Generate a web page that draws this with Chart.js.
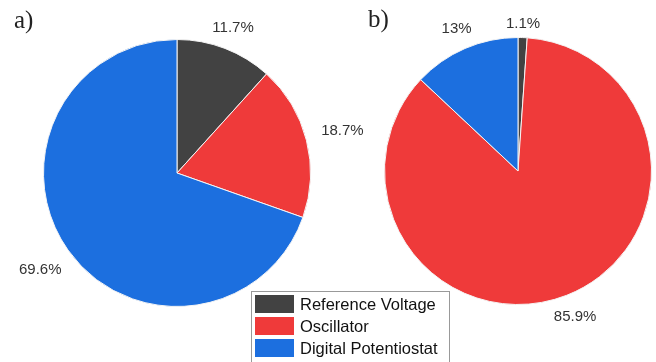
<!DOCTYPE html>
<html>
<head>
<meta charset="utf-8">
<script src="https://cdn.jsdelivr.net/npm/chart.js@4/dist/chart.umd.min.js"></script>
<style>
  body { margin:0; background:#fff; }
  #wrap { position:relative; width:656px; height:362px; overflow:hidden; }
  #wrap canvas { position:absolute; left:0; top:0; }
  .tag { position:absolute; font-family:"Liberation Serif","Times New Roman",serif; font-size:25px; color:#222; }
  #legend { position:absolute; left:251px; top:291px; width:199px; height:72px; border:1px solid #999; box-sizing:border-box;
            font-family:"Liberation Sans",Arial,sans-serif; font-size:16.5px; color:#111; }
  .row { position:absolute; left:3px; height:18px; }
  .sw { position:absolute; left:0; top:0; width:39px; height:18px; }
  .lt { position:absolute; left:45px; top:-1px; white-space:nowrap; line-height:20px; }
</style>
</head>
<body>
<div id="wrap">
  <canvas id="pieA" width="656" height="362"></canvas>
  <canvas id="pieB" width="656" height="362"></canvas>
  <div class="tag" style="left:14px;top:6px">a)</div>
  <div class="tag" style="left:368px;top:5px">b)</div>
  <div id="legend"></div>
</div>
<script>
const parts = ['Reference Voltage', 'Oscillator', 'Digital Potentiostat'];
const shareA = [11.7, 18.7, 69.6];
const shareB = [1.1, 85.9, 13];
const textA = ['11.7%', '18.7%', '69.6%'];
const textB = ['1.1%', '85.9%', '13%'];
const colors = ['#424242', '#ef3a3a', '#1c6fdf'];

// percentage labels just outside each slice
const outLabels = {
  id: 'outLabels',
  afterDatasetsDraw(chart, args, opts) {
    const ctx = chart.ctx;
    const meta = chart.getDatasetMeta(0);
    ctx.save();
    ctx.font = '15px "Liberation Sans", Arial, sans-serif';
    ctx.fillStyle = '#333';
    ctx.textAlign = 'center';
    ctx.textBaseline = 'middle';
    meta.data.forEach((arc, i) => {
      const mid = (arc.startAngle + arc.endAngle) / 2;
      const txt = opts.texts[i];
      const w = ctx.measureText(txt).width;
      const dx = Math.cos(mid), dy = Math.sin(mid);
      const d = arc.outerRadius + 10 + Math.abs(dx) * (w / 2 + 6) + Math.abs(dy) * 3;
      ctx.fillText(txt, arc.x + dx * d, arc.y + dy * d);
    });
    ctx.restore();
  }
};

function makePie(id, values, texts, pad) {
  new Chart(document.getElementById(id), {
    type: 'pie',
    data: {
      labels: parts,
      datasets: [{
        data: values,
        backgroundColor: colors,
        borderColor: '#f4f4f4',
        borderWidth: 1
      }]
    },
    options: {
      responsive: false,
      animation: false,
      layout: { padding: pad },
      plugins: {
        legend: { display: false },
        tooltip: { enabled: false },
        outLabels: { texts: texts }
      }
    },
    plugins: [outLabels]
  });
}

makePie('pieA', shareA, textA, { left: 43, right: 345, top: 39, bottom: 55 });
makePie('pieB', shareB, textB, { left: 384, right: 4, top: 37, bottom: 57 });

// legend
const lg = document.getElementById('legend');
parts.forEach((p, i) => {
  const r = document.createElement('div');
  r.className = 'row';
  r.style.top = (3 + i * 22) + 'px';
  r.innerHTML = '<div class="sw" style="background:' + colors[i] + '"></div><div class="lt">' + p + '</div>';
  lg.appendChild(r);
});
</script>
</body>
</html>
